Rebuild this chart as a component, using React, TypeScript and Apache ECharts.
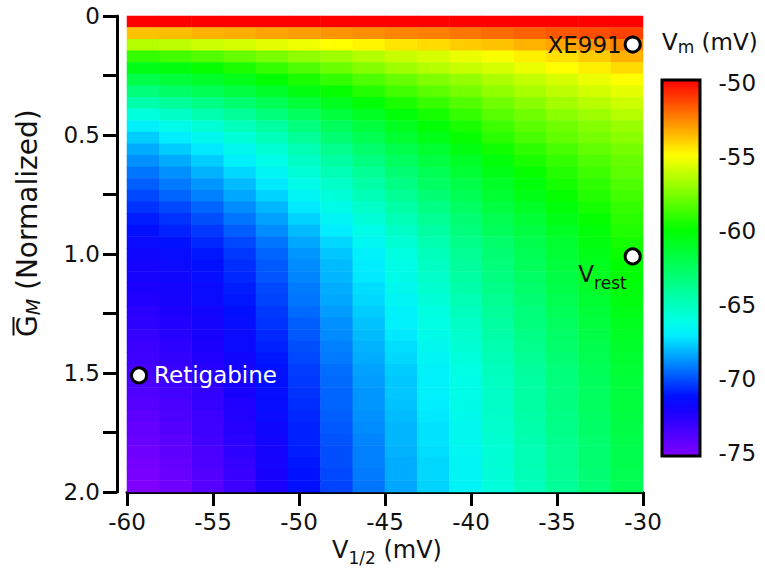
import React, { useEffect, useRef } from "react";
import * as echarts from "echarts";

// V1/2 (mV) columns
const vHalf = [-60, -58, -56, -54, -52, -50, -48, -46, -44, -42, -40, -38, -36, -34, -32, -30];
// normalized G_M rows
const gM = [0, 0.05, 0.1, 0.15, 0.2, 0.25, 0.3, 0.35, 0.4, 0.45, 0.5, 0.55, 0.6, 0.65, 0.7, 0.75, 0.8, 0.85, 0.9, 0.95, 1.0,
  1.05, 1.1, 1.15, 1.2, 1.25, 1.3, 1.35, 1.4, 1.45, 1.5, 1.55, 1.6, 1.65, 1.7, 1.75, 1.8, 1.85, 1.9, 1.95, 2.0];
// Vm (mV), one row per G_M value, one column per V1/2 value
const vmRows = [
  [-50.0, -50.0, -50.0, -50.0, -50.0, -50.0, -50.0, -50.0, -50.0, -50.0, -50.0, -50.0, -50.0, -50.0, -50.0, -50.0],
  [-53.8, -53.7, -53.5, -53.4, -53.2, -53.1, -52.9, -52.8, -52.6, -52.5, -52.3, -52.1, -51.9, -51.7, -51.5, -51.3],
  [-56.5, -56.3, -56.0, -55.8, -55.5, -55.3, -55.0, -54.8, -54.5, -54.3, -54.0, -53.8, -53.5, -53.2, -52.9, -52.5],
  [-59.0, -58.7, -58.4, -58.0, -57.6, -57.2, -56.9, -56.5, -56.1, -55.8, -55.4, -55.1, -54.7, -54.4, -54.0, -53.5],
  [-60.6, -60.3, -59.9, -59.5, -59.0, -58.5, -57.9, -57.4, -56.9, -56.5, -56.1, -55.8, -55.4, -55.0, -54.7, -54.3],
  [-61.9, -61.5, -61.1, -60.6, -60.0, -59.5, -59.0, -58.5, -58.0, -57.5, -57.1, -56.6, -56.2, -55.8, -55.4, -55.0],
  [-63.2, -62.7, -62.2, -61.7, -61.1, -60.5, -59.9, -59.3, -58.7, -58.2, -57.7, -57.2, -56.7, -56.3, -55.9, -55.5],
  [-64.5, -64.0, -63.5, -62.9, -62.2, -61.5, -60.8, -60.1, -59.5, -58.9, -58.4, -57.8, -57.3, -56.8, -56.4, -56.0],
  [-65.8, -65.2, -64.6, -64.0, -63.2, -62.5, -61.6, -60.9, -60.2, -59.6, -59.0, -58.3, -57.8, -57.3, -56.9, -56.5],
  [-66.8, -66.2, -65.6, -64.9, -64.2, -63.3, -62.4, -61.6, -60.8, -60.1, -59.5, -58.8, -58.2, -57.8, -57.4, -57.0],
  [-67.6, -67.0, -66.4, -65.7, -64.9, -64.0, -63.0, -62.1, -61.3, -60.6, -59.9, -59.2, -58.6, -58.1, -57.7, -57.3],
  [-68.2, -67.6, -67.1, -66.4, -65.6, -64.7, -63.7, -62.8, -62.0, -61.2, -60.5, -59.7, -59.1, -58.6, -58.1, -57.7],
  [-68.7, -68.2, -67.6, -66.9, -66.1, -65.2, -64.3, -63.4, -62.5, -61.7, -61.0, -60.2, -59.5, -59.0, -58.5, -58.0],
  [-69.2, -68.7, -68.1, -67.4, -66.6, -65.7, -64.8, -63.9, -63.0, -62.2, -61.4, -60.6, -59.9, -59.3, -58.8, -58.2],
  [-69.6, -69.1, -68.6, -67.9, -67.1, -66.2, -65.3, -64.4, -63.5, -62.6, -61.9, -61.0, -60.3, -59.6, -59.1, -58.5],
  [-70.0, -69.5, -69.0, -68.3, -67.5, -66.6, -65.7, -64.8, -63.9, -63.0, -62.2, -61.3, -60.6, -59.9, -59.3, -58.7],
  [-70.4, -70.0, -69.5, -68.8, -68.0, -67.1, -66.2, -65.3, -64.4, -63.5, -62.6, -61.7, -61.0, -60.3, -59.6, -59.0],
  [-70.8, -70.4, -69.9, -69.2, -68.4, -67.5, -66.6, -65.7, -64.8, -63.9, -63.0, -62.1, -61.4, -60.6, -59.9, -59.2],
  [-71.1, -70.7, -70.3, -69.6, -68.8, -67.9, -67.0, -66.1, -65.2, -64.3, -63.3, -62.4, -61.7, -60.9, -60.2, -59.4],
  [-71.4, -71.0, -70.6, -70.0, -69.2, -68.3, -67.4, -66.5, -65.6, -64.6, -63.6, -62.8, -62.0, -61.2, -60.4, -59.6],
  [-71.6, -71.3, -70.9, -70.3, -69.5, -68.6, -67.7, -66.8, -65.9, -64.9, -63.9, -63.0, -62.2, -61.4, -60.6, -59.8],
  [-71.8, -71.5, -71.1, -70.5, -69.7, -68.8, -67.9, -67.0, -66.1, -65.1, -64.1, -63.2, -62.4, -61.6, -60.8, -60.0],
  [-71.9, -71.6, -71.2, -70.6, -69.8, -68.9, -68.0, -67.1, -66.2, -65.3, -64.3, -63.4, -62.6, -61.8, -60.9, -60.1],
  [-72.1, -71.8, -71.4, -70.8, -70.0, -69.1, -68.2, -67.3, -66.4, -65.5, -64.5, -63.6, -62.8, -61.9, -61.1, -60.3],
  [-72.3, -71.9, -71.5, -70.9, -70.1, -69.2, -68.3, -67.4, -66.6, -65.7, -64.7, -63.8, -63.0, -62.1, -61.3, -60.4],
  [-72.5, -72.1, -71.7, -71.1, -70.3, -69.4, -68.5, -67.6, -66.8, -65.9, -65.0, -64.0, -63.2, -62.3, -61.5, -60.6],
  [-72.6, -72.3, -71.8, -71.2, -70.4, -69.6, -68.7, -67.8, -66.9, -66.0, -65.2, -64.2, -63.3, -62.5, -61.6, -60.8],
  [-72.8, -72.4, -72.0, -71.4, -70.6, -69.7, -68.8, -67.9, -67.1, -66.2, -65.4, -64.4, -63.5, -62.7, -61.8, -60.9],
  [-73.0, -72.6, -72.1, -71.5, -70.7, -69.9, -69.0, -68.1, -67.3, -66.4, -65.6, -64.6, -63.7, -62.8, -62.0, -61.1],
  [-73.1, -72.7, -72.3, -71.7, -70.9, -70.0, -69.1, -68.2, -67.4, -66.6, -65.8, -64.8, -63.9, -63.0, -62.1, -61.2],
  [-73.3, -72.9, -72.4, -71.8, -71.0, -70.2, -69.3, -68.4, -67.6, -66.8, -66.0, -65.0, -64.1, -63.2, -62.3, -61.4],
  [-73.5, -73.1, -72.5, -71.9, -71.1, -70.3, -69.4, -68.5, -67.7, -66.9, -66.1, -65.1, -64.2, -63.3, -62.4, -61.5],
  [-73.6, -73.2, -72.7, -72.0, -71.2, -70.4, -69.5, -68.6, -67.7, -66.9, -66.1, -65.2, -64.3, -63.4, -62.5, -61.6],
  [-73.8, -73.4, -72.8, -72.2, -71.3, -70.5, -69.5, -68.6, -67.8, -67.0, -66.2, -65.2, -64.3, -63.4, -62.5, -61.6],
  [-74.0, -73.5, -73.0, -72.3, -71.4, -70.6, -69.6, -68.7, -67.9, -67.1, -66.3, -65.3, -64.4, -63.5, -62.6, -61.7],
  [-74.2, -73.7, -73.1, -72.4, -71.6, -70.7, -69.7, -68.8, -68.0, -67.2, -66.4, -65.4, -64.5, -63.6, -62.7, -61.8],
  [-74.3, -73.9, -73.2, -72.5, -71.7, -70.7, -69.8, -68.9, -68.0, -67.2, -66.4, -65.5, -64.6, -63.7, -62.8, -61.9],
  [-74.5, -74.0, -73.4, -72.6, -71.8, -70.8, -69.9, -69.0, -68.1, -67.3, -66.5, -65.6, -64.7, -63.8, -62.9, -62.0],
  [-74.7, -74.2, -73.5, -72.8, -71.9, -70.9, -69.9, -69.0, -68.2, -67.4, -66.6, -65.6, -64.7, -63.8, -62.9, -62.0],
  [-74.8, -74.3, -73.7, -72.9, -72.0, -71.0, -70.0, -69.1, -68.2, -67.4, -66.6, -65.7, -64.8, -63.9, -63.0, -62.1],
  [-75.0, -74.5, -73.8, -73.0, -72.1, -71.1, -70.1, -69.2, -68.3, -67.5, -66.7, -65.8, -64.9, -64.0, -63.1, -62.2],
];

// annotated points
const markerNames = ["XE991", "Vrest", "Retigabine"];
const markerV = [-30.6, -30.6, -59.3];
const markerG = [0.12, 1.01, 1.51];

// colour scale, one stop per mV from -75 to -50
const vmMin = -75;
const vmMax = -50;
const palette = [
  "#8000ff", "#5d00ff", "#3b00ff", "#1800ff", "#0011ff", "#0048ff", "#0080ff", "#00b7ff", "#00eeff",
  "#00ffe4", "#00ffbe", "#00ff98", "#00ff72", "#00ff4c", "#00ff26", "#00ff00",
  "#33ff00", "#66ff00", "#99ff00", "#ccff00", "#ffff00", "#ffcc00", "#ff9900", "#ff6600", "#ff3300", "#ff0000",
];

const FONT = "DejaVu Sans";
const INK = "#111";

export default function App() {
  const ref = useRef<HTMLDivElement>(null);

  useEffect(() => {
    if (!ref.current) return;
    const chart = echarts.init(ref.current, null, { renderer: "svg" });

    const heat: number[][] = [];
    vmRows.forEach((row, yi) => row.forEach((v, xi) => heat.push([xi, yi, v])));

    const GL = 127, GT = 16, GW = 516, GH = 476;
    const CBL = 662, CBT = 83, CBW = 38, CBH = 370;

    const stops = palette
      .slice()
      .reverse()
      .map((c, i) => ({ offset: i / (palette.length - 1), color: c }));

    const labelFmtY = (v: number) => {
      const r = Math.round(v * 100) / 100;
      if (Math.abs(r * 2 - Math.round(r * 2)) > 1e-6) return "";
      return r === 0 ? "0" : r.toFixed(1);
    };

    const markerLabels: any[] = [
      { show: true, position: "left", distance: 2, formatter: markerNames[0], fontSize: 23, color: INK, fontFamily: FONT },
      {
        show: true, position: "left", distance: -3, offset: [0, 18],
        formatter: "{v|V}{s|rest}",
        rich: {
          v: { fontSize: 23, lineHeight: 23, verticalAlign: "top", color: INK, fontFamily: FONT },
          s: { fontSize: 17, lineHeight: 17, verticalAlign: "top", padding: [12, 0, 0, 0], color: INK, fontFamily: FONT },
        },
      },
      { show: true, position: "right", distance: 6, formatter: markerNames[2], fontSize: 23, color: "#fff", fontFamily: FONT },
    ];

    const scatterData = markerNames.map((n, i) => ({
      name: n,
      value: [markerV[i], markerG[i]],
      label: markerLabels[i],
    }));

    const option: any = {
      animation: false,
      backgroundColor: "#fff",
      textStyle: { fontFamily: FONT },
      grid: [
        { left: GL, top: GT, width: GW, height: GH },
        { left: CBL, top: CBT, width: CBW, height: CBH },
      ],
      xAxis: [
        { type: "category", gridIndex: 0, data: vHalf.map(String), show: false, position: "top" },
        {
          type: "value", gridIndex: 0, min: -60, max: -30, interval: 5, position: "bottom",
          axisLine: { show: true, onZero: false, lineStyle: { color: "#000", width: 3 } },
          axisTick: { show: true, length: 14, lineStyle: { color: "#000", width: 3 } },
          axisLabel: { fontSize: 23, color: INK, margin: 18, fontFamily: FONT },
          splitLine: { show: false },
        },
        { type: "value", gridIndex: 1, min: 0, max: 1, show: false },
      ],
      yAxis: [
        { type: "category", gridIndex: 0, data: gM.map(String), inverse: true, show: false, position: "right" },
        {
          type: "value", gridIndex: 0, min: 0, max: 2, interval: 0.25, inverse: true, position: "left", offset: 10,
          axisLine: { show: true, onZero: false, lineStyle: { color: "#000", width: 3 } },
          axisTick: { show: true, length: 14, lineStyle: { color: "#000", width: 3 } },
          axisLabel: { fontSize: 23, color: INK, margin: 17, fontFamily: FONT, formatter: labelFmtY },
          splitLine: { show: false },
        },
        {
          type: "value", gridIndex: 1, min: vmMin, max: vmMax, interval: 5, position: "right", offset: 1.5,
          axisLine: { show: false },
          axisTick: { show: true, length: 14, lineStyle: { color: "#000", width: 3 } },
          axisLabel: { fontSize: 23, color: INK, margin: 17, fontFamily: FONT },
          splitLine: { show: false },
        },
      ],
      visualMap: {
        show: false, type: "continuous", min: vmMin, max: vmMax, seriesIndex: 0, dimension: 2,
        inRange: { color: palette },
      },
      series: [
        {
          type: "heatmap", xAxisIndex: 0, yAxisIndex: 0, data: heat, progressive: 0,
          itemStyle: { borderWidth: 0 },
          emphasis: { disabled: true },
        },
        {
          type: "scatter", xAxisIndex: 1, yAxisIndex: 1, symbol: "circle", symbolSize: 15, z: 5,
          itemStyle: { color: "#fff", borderColor: "#000", borderWidth: 3, opacity: 1 },
          emphasis: { disabled: true },
          data: scatterData,
        },
      ],
      graphic: [
        {
          type: "rect", z: 1,
          shape: { x: CBL, y: CBT - 3, width: CBW, height: CBH + 6 },
          style: { fill: { type: "linear", x: 0, y: 0, x2: 0, y2: 1, colorStops: stops }, stroke: "#000", lineWidth: 3 },
        },
        {
          type: "text", left: 332, top: 538,
          style: {
            text: "{a|V}{b|1/2}{a| (mV)}",
            rich: {
              a: { fontSize: 24, lineHeight: 24, verticalAlign: "top", fill: INK, fontFamily: FONT },
              b: { fontSize: 17, lineHeight: 17, verticalAlign: "top", padding: [11, 0, 0, 0], fill: INK, fontFamily: FONT },
            },
          },
        },
        {
          type: "text", left: 662, top: 30,
          style: {
            text: "{a|V}{b|m}{a| (mV)}",
            rich: {
              a: { fontSize: 23, lineHeight: 23, verticalAlign: "top", fill: INK, fontFamily: FONT },
              b: { fontSize: 17, lineHeight: 17, verticalAlign: "top", padding: [8, 0, 0, 0], fill: INK, fontFamily: FONT },
            },
          },
        },
        {
          type: "group", x: 27, y: 337, rotation: Math.PI / 2,
          children: [
            {
              type: "text", x: 0, y: -14,
              style: {
                text: "{g|G}{m|M}{a| (Normalized)}",
                rich: {
                  g: { fontSize: 28, lineHeight: 28, verticalAlign: "top", fill: INK, fontFamily: FONT },
                  m: { fontSize: 19, lineHeight: 19, verticalAlign: "top", padding: [10, 0, 0, 0], fontStyle: "italic", fill: INK, fontFamily: FONT },
                  a: { fontSize: 28, lineHeight: 28, verticalAlign: "top", fill: INK, fontFamily: FONT },
                },
              },
            },
            {
              type: "line",
              shape: { x1: 1.5, y1: -13.5, x2: 20, y2: -13.5 },
              style: { stroke: INK, lineWidth: 2 },
            },
          ],
        },
      ],
    };

    chart.setOption(option);
    return () => chart.dispose();
  }, []);

  return (
    <div
      ref={ref}
      style={{ position: "absolute", left: 0, top: 0, width: 765, height: 570, background: "#fff" }}
    />
  );
}
